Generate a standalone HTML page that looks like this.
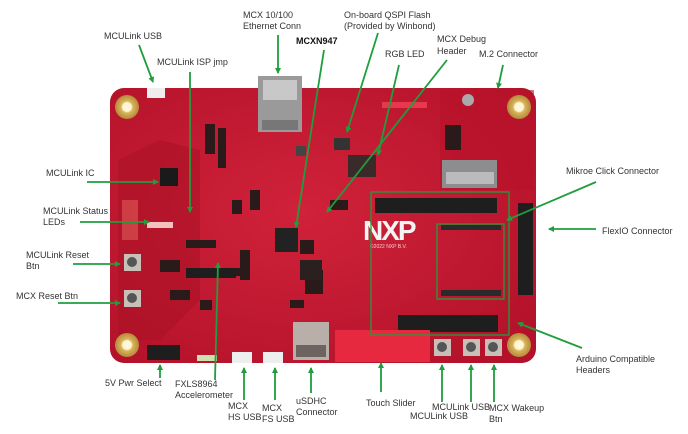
<!DOCTYPE html>
<html><head><meta charset="utf-8"><style>
html,body{margin:0;padding:0;background:#fff;width:688px;height:434px;overflow:hidden}
svg{display:block}
text{font-family:"Liberation Sans",sans-serif;font-size:9px;fill:#333}
</style></head><body>
<svg width="688" height="434" viewBox="0 0 688 434" xmlns="http://www.w3.org/2000/svg">
<defs>
<marker id="a" markerWidth="6" markerHeight="6" refX="5" refY="3" orient="auto" markerUnits="userSpaceOnUse"><path d="M0,0 L6,3 L0,6 z" fill="#1e9e3c"/></marker>
<radialGradient id="bg" cx="0.45" cy="0.45" r="0.7"><stop offset="0" stop-color="#d0223a"/><stop offset="1" stop-color="#b3122a"/></radialGradient>
<radialGradient id="hole"><stop offset="0.35" stop-color="#fff6d8"/><stop offset="0.5" stop-color="#d9b45c"/><stop offset="1" stop-color="#b58a3a"/></radialGradient>
</defs>
<!-- board -->
<rect x="110" y="88" width="426" height="275" rx="14" fill="url(#bg)"/>
<rect x="440" y="90" width="94" height="100" fill="#b81229" opacity="0.6"/>
<path d="M118,160 L160,140 L200,150 L200,300 L160,340 L118,340 z" fill="#a80f24" opacity="0.5"/>
<!-- holes -->
<circle cx="127" cy="107" r="12" fill="url(#hole)"/>
<circle cx="519" cy="107" r="12" fill="url(#hole)"/>
<circle cx="127" cy="345" r="12" fill="url(#hole)"/>
<circle cx="519" cy="345" r="12" fill="url(#hole)"/>
<!-- ethernet -->
<rect x="258" y="76" width="44" height="56" fill="#9a9a9a"/>
<rect x="263" y="80" width="34" height="20" fill="#c8c8c8"/>
<rect x="262" y="120" width="36" height="10" fill="#777"/>
<!-- usb top -->
<rect x="147" y="88" width="18" height="10" fill="#eee"/>
<!-- chips -->
<rect x="160" y="168" width="18" height="18" fill="#1a1a1a"/>
<rect x="275" y="228" width="23" height="24" fill="#222"/>
<rect x="334" y="138" width="16" height="12" fill="#333"/>
<rect x="348" y="155" width="28" height="22" fill="#3a2a2a"/>
<rect x="296" y="146" width="10" height="10" fill="#444"/>
<!-- small components scatter -->
<g fill="#2a1a1a">
<rect x="205" y="124" width="10" height="30"/><rect x="218" y="128" width="8" height="40"/>
<rect x="232" y="200" width="10" height="14"/><rect x="186" y="240" width="30" height="8"/>
<rect x="210" y="268" width="40" height="8"/><rect x="240" y="250" width="10" height="30"/>
<rect x="300" y="240" width="14" height="14"/><rect x="305" y="270" width="18" height="24"/>
<rect x="330" y="200" width="18" height="10"/><rect x="250" y="190" width="10" height="20"/>
<rect x="160" y="260" width="20" height="12"/><rect x="170" y="290" width="20" height="10"/>
<rect x="200" y="300" width="12" height="10"/><rect x="290" y="300" width="14" height="8"/>
<rect x="445" y="125" width="16" height="25"/>
</g>
<rect x="147" y="222" width="26" height="6" fill="#f4c0c0"/>
<rect x="122" y="200" width="16" height="40" fill="#d85050" opacity="0.7"/>
<!-- M.2 -->
<rect x="442" y="160" width="55" height="28" fill="#8d8d90"/>
<rect x="446" y="172" width="48" height="12" fill="#bbb"/>
<circle cx="468" cy="100" r="6" fill="#aaa"/>
<!-- LED area light -->
<rect x="382" y="102" width="45" height="6" fill="#e8384e"/>
<!-- headers -->
<rect x="375" y="198" width="122" height="15" fill="#1e1e1e"/>
<rect x="518" y="203" width="15" height="92" fill="#1e1e1e"/>
<rect x="398" y="315" width="100" height="17" fill="#1e1e1e"/>
<rect x="441" y="225" width="60" height="5" fill="#2a2a2a"/>
<rect x="441" y="290" width="60" height="6" fill="#2a2a2a"/>
<rect x="147" y="345" width="33" height="15" fill="#1e1e1e"/>
<rect x="186" y="268" width="50" height="10" fill="#1e1e1e"/>
<rect x="300" y="260" width="22" height="20" fill="#2a2020"/>
<!-- NXP logo -->
<text x="363" y="240" style="font-size:28px;font-weight:bold;fill:#f4f4f4;letter-spacing:-2px">NXP</text>
<text x="370" y="248" style="font-size:5px;fill:#f4d0d0">©2022 NXP B.V.</text>
<!-- touch slider -->
<rect x="335" y="330" width="95" height="32" fill="#e6293f"/>
<!-- SD -->
<rect x="293" y="322" width="36" height="38" fill="#b8b0a8"/>
<rect x="296" y="345" width="30" height="12" fill="#6d6360"/>
<!-- usbs bottom -->
<rect x="232" y="352" width="20" height="11" fill="#eee"/>
<rect x="263" y="352" width="20" height="11" fill="#eee"/>
<rect x="197" y="355" width="20" height="6" fill="#cfe0b0"/>
<!-- buttons -->
<g fill="#c8c0b8"><rect x="434" y="339" width="17" height="17"/><rect x="463" y="339" width="17" height="17"/><rect x="485" y="339" width="17" height="17"/>
<rect x="124" y="254" width="17" height="17"/><rect x="124" y="290" width="17" height="17"/></g>
<g fill="#555"><circle cx="442" cy="347" r="5"/><circle cx="471" cy="347" r="5"/><circle cx="493" cy="347" r="5"/><circle cx="132" cy="262" r="5"/><circle cx="132" cy="298" r="5"/></g>
<!-- green boxes -->
<g fill="none" stroke="#1e9e3c" stroke-width="1.3">
<rect x="371" y="192" width="138" height="143"/>
<rect x="437" y="224" width="67" height="75"/>
</g>
<!-- connectors -->
<g stroke="#1e9e3c" stroke-width="1.8" fill="none" marker-end="url(#a)">
<line x1="139" y1="45" x2="153" y2="82"/>
<line x1="190" y1="72" x2="190" y2="212"/>
<line x1="278" y1="35" x2="278" y2="73"/>
<line x1="324" y1="50" x2="296" y2="227"/>
<line x1="378" y1="33" x2="347" y2="132"/>
<line x1="399" y1="65" x2="378" y2="155"/>
<line x1="447" y1="60" x2="327" y2="212"/>
<line x1="503" y1="65" x2="498" y2="88"/>
<line x1="87" y1="182" x2="158" y2="182"/>
<line x1="80" y1="222" x2="149" y2="222"/>
<line x1="73" y1="264" x2="120" y2="264"/>
<line x1="58" y1="303" x2="120" y2="303"/>
<line x1="596" y1="182" x2="507" y2="220"/>
<line x1="596" y1="229" x2="549" y2="229"/>
<line x1="582" y1="348" x2="518" y2="323"/>
<line x1="160" y1="378" x2="160" y2="365"/>
<line x1="215" y1="380" x2="218" y2="263"/>
<line x1="244" y1="400" x2="244" y2="368"/>
<line x1="275" y1="400" x2="275" y2="368"/>
<line x1="311" y1="393" x2="311" y2="368"/>
<line x1="381" y1="392" x2="381" y2="363"/>
<line x1="442" y1="402" x2="442" y2="365"/>
<line x1="471" y1="402" x2="471" y2="365"/>
<line x1="494" y1="402" x2="494" y2="365"/>
</g>
<!-- labels -->
<text x="104" y="39">MCULink USB</text>
<text x="157" y="65">MCULink ISP jmp</text>
<text x="243" y="18">MCX 10/100</text>
<text x="243" y="29">Ethernet Conn</text>
<text x="296" y="44" style="font-weight:bold;fill:#111">MCXN947</text>
<text x="344" y="18">On-board QSPI Flash</text>
<text x="344" y="29">(Provided by Winbond)</text>
<text x="385" y="57">RGB LED</text>
<text x="437" y="42">MCX Debug</text>
<text x="437" y="54">Header</text>
<text x="479" y="57">M.2 Connector</text>
<text x="46" y="176">MCULink IC</text>
<text x="43" y="214">MCULink Status</text>
<text x="43" y="225">LEDs</text>
<text x="26" y="258">MCULink Reset</text>
<text x="26" y="269">Btn</text>
<text x="16" y="299">MCX Reset Btn</text>
<text x="566" y="174">Mikroe Click Connector</text>
<text x="602" y="234">FlexIO Connector</text>
<text x="576" y="362">Arduino Compatible</text>
<text x="576" y="373">Headers</text>
<text x="105" y="386">5V Pwr Select</text>
<text x="175" y="387">FXLS8964</text>
<text x="175" y="398">Accelerometer</text>
<text x="228" y="409">MCX</text>
<text x="228" y="420">HS USB</text>
<text x="262" y="411">MCX</text>
<text x="262" y="422">FS USB</text>
<text x="296" y="404">uSDHC</text>
<text x="296" y="415">Connector</text>
<text x="366" y="406">Touch Slider</text>
<text x="432" y="410">MCULink USB</text>
<text x="410" y="419">MCULink USB</text>
<text x="489" y="411">MCX Wakeup</text>
<text x="489" y="422">Btn</text>
</svg>
</body></html>
